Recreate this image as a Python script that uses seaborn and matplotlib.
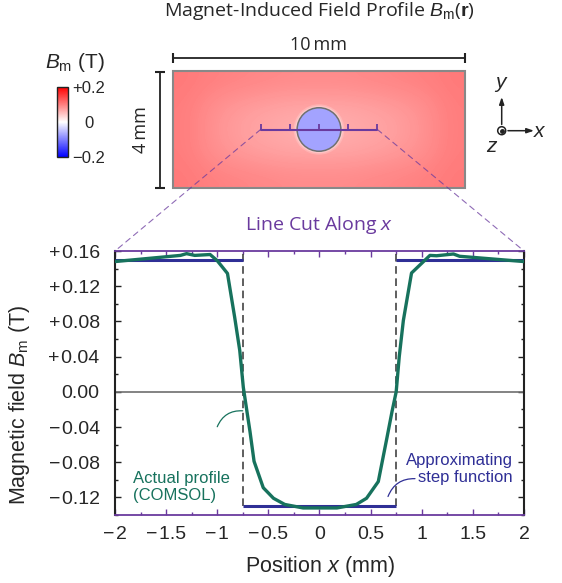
import numpy as np
import matplotlib
matplotlib.use("Agg")
import matplotlib.pyplot as plt
import seaborn as sns
from matplotlib.patches import Circle, Rectangle, ConnectionPatch
from matplotlib.ticker import MultipleLocator
from matplotlib.cm import ScalarMappable
from matplotlib.colors import Normalize

sns.set_theme(style="white")
plt.rcParams["font.family"] = ["Liberation Sans", "DejaVu Sans"]
plt.rcParams["mathtext.fontset"] = "custom"
plt.rcParams["mathtext.rm"] = "Liberation Sans"
plt.rcParams["mathtext.it"] = "Liberation Sans:italic"
plt.rcParams["mathtext.bf"] = "Liberation Sans:bold"

# ---- data: line cut along x (position in mm, field in T) ----
x_cut = [-2.0, -1.36, -1.30, -1.22, -1.07, -1.00, -0.90, -0.83, -0.78, -0.745,
         -0.71, -0.68, -0.64, -0.55, -0.45, -0.34, -0.16, 0.0, 0.17, 0.36,
         0.46, 0.575, 0.66, 0.71, 0.75, 0.78, 0.82, 0.90, 1.08, 1.145,
         1.31, 1.37, 2.0]
b_cut = [0.148, 0.155, 0.157, 0.155, 0.156, 0.149, 0.1345, 0.085, 0.047, 0.005,
         -0.022, -0.045, -0.079, -0.109, -0.121, -0.128, -0.132, -0.132, -0.132, -0.128,
         -0.121, -0.102, -0.052, -0.022, 0.0, 0.04, 0.081, 0.135, 0.155, 0.1546,
         0.1566, 0.154, 0.148]

# approximating step function
step_starts = [-2.0, -0.75, 0.75]
step_ends = [-0.75, 0.75, 2.0]
step_levels = [0.15, -0.13, 0.15]
step_edges = [-0.75, 0.75]

# 2D field map (T), rows y = -2..2 mm, cols x = -5..5 mm
field_row_edge = [0.19, 0.18, 0.175, 0.17, 0.165, 0.165, 0.165, 0.17, 0.175, 0.18, 0.19]
field_row_mid = [0.185, 0.16, 0.145, 0.135, 0.13, 0.13, 0.13, 0.135, 0.145, 0.16, 0.185]
field_row_center = [0.185, 0.155, 0.135, 0.125, 0.115, 0.105, 0.115, 0.125, 0.135, 0.155, 0.185]
field_inside = -0.13
magnet_radius = 0.75
cut_ticks = [-2, -1, 0, 1, 2]

hs = "\u200a"
y_ticks = [-0.12, -0.08, -0.04, 0.0, 0.04, 0.08, 0.12, 0.16]
y_tick_labels = ["\u2212" + hs + "0.12", "\u2212" + hs + "0.08", "\u2212" + hs + "0.04", "0.00",
                 "+" + hs + "0.04", "+" + hs + "0.08", "+" + hs + "0.12", "+" + hs + "0.16"]
x_ticks = [-2, -1.5, -1, -0.5, 0, 0.5, 1, 1.5, 2]
x_tick_labels = ["\u2212" + hs + "2", "\u2212" + hs + "1.5", "\u2212" + hs + "1",
                 "\u2212" + hs + "0.5", "0", "0.5", "1", "1.5", "2"]
cbar_ticks = [-0.2, 0, 0.2]
cbar_labels = ["\u22120.2", "0", "+0.2"]

teal = "#17725d"
navy = "#2f2f96"
purple = "#6a3a9e"
title_font = ["Open Sans", "DejaVu Sans"]

W, H = 562, 583


def fx(px):
    return px / W


def fy(py):
    return 1 - py / H


fig = plt.figure(figsize=(W / 100, H / 100), dpi=100)

# ---- main line-cut plot ----
ax = fig.add_axes([fx(115), fy(515), fx(524) - fx(115), fy(251) - fy(515)])
ax.axhline(0, color="#6e6e6e", lw=1.2, zorder=1)
ax.vlines(step_edges, -0.13, 0.16, colors="#333333", linestyles=(0, (5, 3)), lw=1.1, zorder=2)
ax.hlines(step_levels, step_starts, step_ends, colors=navy, lw=2.2, zorder=3)
sns.lineplot(x=x_cut, y=b_cut, ax=ax, color=teal, lw=2.4, zorder=4, legend=False)

ax.set_xlim(-2, 2)
ax.set_ylim(-0.14, 0.16)
ax.set_xticks(x_ticks)
ax.set_xticklabels(x_tick_labels)
ax.set_yticks(y_ticks)
ax.set_yticklabels(y_tick_labels)
ax.xaxis.set_minor_locator(MultipleLocator(0.25))
ax.yaxis.set_minor_locator(MultipleLocator(0.02))
ax.tick_params(which="both", direction="in", top=True, bottom=True, left=True, right=True,
               labelsize=14)
ax.tick_params(which="major", length=4, width=1)
ax.tick_params(which="minor", length=2.5, width=1)
ax.tick_params(axis="x", which="both", color=purple, pad=8)
ax.tick_params(axis="y", which="both", color="#222222", pad=11)
for side in ["top", "bottom"]:
    ax.spines[side].set_color(purple)
    ax.spines[side].set_linewidth(1.3)
for side in ["left", "right"]:
    ax.spines[side].set_color("#222222")
    ax.spines[side].set_linewidth(1.5)

ax.set_xlabel("Position $x$ (mm)", fontsize=15.5)
ax.set_ylabel("Magnetic field $B_\\mathrm{m}$ (T)", fontsize=15.5)
ax.xaxis.set_label_coords(0.5, -0.148)
ax.yaxis.set_label_coords(-0.203, 0.417)

ax.text(0.5, 1 + 26 / 264, "Line Cut Along $x$", transform=ax.transAxes, color=purple,
        ha="center", va="center", fontsize=14, family=title_font)

ax.text(-1.827, -0.108, "Actual profile\n(COMSOL)", color=teal, fontsize=12,
        ha="left", va="center", linespacing=1.15)
ax.annotate("", xy=(-0.751, -0.0216), xytext=(-1.0, -0.0397),
            arrowprops=dict(arrowstyle="-", color=teal, lw=0.9,
                            connectionstyle="arc3,rad=-0.35", shrinkA=0, shrinkB=0))
ax.text(1.892, -0.0874, "Approximating\nstep function", color=navy, fontsize=12,
        ha="right", va="center", linespacing=1.15)
ax.annotate("", xy=(0.934, -0.0987), xytext=(0.67, -0.119),
            arrowprops=dict(arrowstyle="-", color=navy, lw=0.9,
                            connectionstyle="arc3,rad=-0.35", shrinkA=0, shrinkB=0))

# ---- schematic of the 2D field ----
ppm_x, ppm_y, cx, cy = 29.2, 29.0, 319, 129.5
ax_s = fig.add_axes([fx(130), fy(205), fx(510) - fx(130), fy(30) - fy(205)])
ax_s.set_xlim((130 - cx) / ppm_x, (510 - cx) / ppm_x)
ax_s.set_ylim((cy - 205) / ppm_y, (cy - 30) / ppm_y)
ax_s.axis("off")

field = np.array([field_row_edge, field_row_mid, field_row_center, field_row_mid, field_row_edge])
norm = Normalize(vmin=-0.2, vmax=0.2)
cmap = plt.get_cmap("bwr")
alpha = 0.55
ax_s.imshow(field, extent=(-5, 5, -2, 2), origin="lower", cmap=cmap, norm=norm,
            interpolation="bicubic", alpha=alpha, aspect="auto", zorder=1)
ax_s.add_patch(Rectangle((-5, -2), 10, 4, fill=False, ec="#888888", lw=1.5, zorder=3))
for dr, a in [(0.12, 0.18), (0.07, 0.25), (0.03, 0.35)]:
    ax_s.add_patch(Circle((0, 0), magnet_radius + dr, fc="white", ec="none", alpha=a, zorder=2))
inner = alpha * np.array(cmap(norm(field_inside))[:3]) + (1 - alpha)
ax_s.add_patch(Circle((0, 0), magnet_radius, fc=inner, ec="#707070", lw=1.1, zorder=3))

ax_s.plot([cut_ticks[0], cut_ticks[-1]], [0, 0], color=purple, lw=1.5, zorder=4)
ax_s.vlines(cut_ticks, 0, 0.2, colors=purple, lw=1.3, zorder=4)

ax_s.plot([-5, 5], [2.47, 2.47], color="#222222", lw=1.3, marker="|", ms=7, mew=1.5)
ax_s.text(0, 2.92, "10\u2009mm", ha="center", va="center", fontsize=13, family=title_font)
ax_s.plot([-5.45, -5.45], [-2, 2], color="#222222", lw=1.3, marker="_", ms=7, mew=1.5)
ax_s.text(-6.1, 0, "4\u2009mm", ha="center", va="center", rotation=90, fontsize=13,
          family=title_font)

for xa in [cut_ticks[0], cut_ticks[-1]]:
    con = ConnectionPatch(xyA=(xa, 0), coordsA=ax_s.transData,
                          xyB=(xa, 0.16), coordsB=ax.transData,
                          color=purple, lw=0.8, ls=(0, (5, 4)), alpha=0.75)
    fig.add_artist(con)

# ---- colorbar ----
cax = fig.add_axes([fx(57), fy(157), fx(68) - fx(57), fy(87) - fy(157)])
cb = fig.colorbar(ScalarMappable(norm=norm, cmap=cmap), cax=cax)
cb.set_ticks(cbar_ticks)
cb.set_ticklabels(cbar_labels)
cb.outline.set_linewidth(1.0)
cb.outline.set_edgecolor("#222222")
cax.yaxis.set_minor_locator(MultipleLocator(0.05))
cax.tick_params(which="both", direction="in", left=True, right=True, color="#222222",
                width=0.8, labelsize=12, pad=15)
cax.tick_params(which="major", length=0)
cax.tick_params(which="minor", length=2.5)
for lab in cax.get_yticklabels():
    lab.set_horizontalalignment("center")
fig.text(fx(75), fy(63), "$B_\\mathrm{m}$ (T)", ha="center", va="center", fontsize=15)

# ---- title and axis triad ----
fig.text(fx(319), fy(11), "Magnet-Induced Field Profile $B_\\mathrm{m}$($\\mathbf{r}$)",
         ha="center", va="center", fontsize=14, family=title_font)

ov = fig.add_axes([0, 0, 1, 1])
ov.set_xlim(0, W)
ov.set_ylim(H, 0)
ov.axis("off")
ox, oy = 501.7, 130.7
arrow = dict(arrowstyle="-|>,head_length=0.35,head_width=0.12", color="#222222", lw=1.1,
             shrinkA=4.5, shrinkB=0)
ov.annotate("", xy=(ox, 97), xytext=(ox, oy), arrowprops=arrow)
ov.annotate("", xy=(534, oy), xytext=(ox, oy), arrowprops=arrow)
ov.add_patch(Circle((ox, oy), 4, fill=False, ec="#222222", lw=1.1))
ov.plot([ox], [oy], "o", ms=2.5, color="#222222")
ov.text(ox, 85, "$y$", ha="center", va="center", fontsize=15)
ov.text(540, oy + 1, "$x$", ha="center", va="center", fontsize=15)
ov.text(492, 147, "$z$", ha="center", va="center", fontsize=15)

fig.savefig("out.png", dpi=100)
